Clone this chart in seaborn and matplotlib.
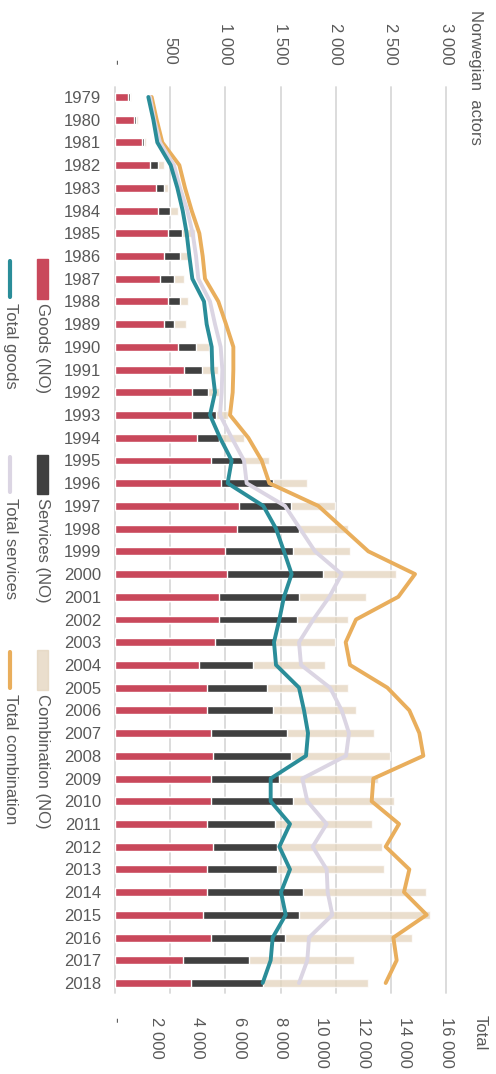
import numpy as np
import pandas as pd
import matplotlib
matplotlib.use("Agg")
import matplotlib.pyplot as plt
from matplotlib.patches import Rectangle
from matplotlib.lines import Line2D
import seaborn as sns

years = [str(y) for y in range(1979, 2019)]

# Norwegian actors (top axis), values per segment
goods_no = [115, 175, 242, 317, 372, 393, 483, 444, 408, 483, 444, 574, 628,
            701, 701, 740, 867, 958, 1121, 1103, 994, 1015, 943, 943, 903, 758,
            831, 831, 867, 885, 867, 867, 831, 885, 831, 831, 795, 867, 613, 686]
services_no = [18, 12, 18, 73, 72, 105, 124, 145, 127, 106, 91, 160, 160,
               145, 214, 206, 290, 471, 474, 565, 619, 870, 725, 706, 535, 490,
               544, 598, 692, 710, 619, 746, 619, 583, 637, 873, 873, 674, 598, 652]
combination_no = [12, 18, 18, 51, 36, 73, 118, 73, 90, 73, 108, 121, 149,
                   100, 112, 223, 236, 311, 402, 441, 514, 659, 604, 460, 559, 658,
                   734, 752, 785, 894, 895, 913, 876, 949, 967, 1118, 1190, 1148, 952, 952]

# Totals (bottom axis)
total_goods = [1611, 1853, 2046, 2691, 3013, 3271, 3464, 3593, 3738, 4302, 4431, 4673, 4705,
               4834, 4592, 5076, 5640, 5446, 7170, 7783, 8169, 8540, 8169, 7944, 7686, 7783,
               8895, 9137, 9330, 9233, 7525, 7525, 8459, 7944, 8459, 8024, 8250, 7622, 7525, 7138]
total_services = [1692, 1901, 2175, 2852, 3142, 3497, 3754, 3916, 4028, 4592, 4834, 5108, 5189,
                  5157, 5076, 5640, 6236, 6365, 8218, 8943, 9668, 10957, 10361, 9587, 8895, 8991,
                  10393, 10957, 11312, 11167, 9055, 9297, 10232, 9555, 10232, 10280, 10506, 9378, 9297, 8895]
total_combination = [1772, 2014, 2288, 3110, 3384, 3706, 4077, 4238, 4351, 4995, 5366, 5721, 5721,
                     5689, 5559, 6445, 7090, 7461, 9829, 11038, 12246, 14502, 13696, 11650, 11151, 11360,
                     13164, 14228, 14711, 14905, 12488, 12407, 13729, 13084, 14228, 13970, 15066, 13455, 13616, 13084]

df = pd.DataFrame({"year": years, "goods": goods_no, "services": services_no,
                   "combination": combination_no, "tot_goods": total_goods,
                   "tot_services": total_services, "tot_comb": total_combination})
df["s1"] = df["goods"]
df["s2"] = df["s1"] + df["services"]
df["s3"] = df["s2"] + df["combination"]
df["pos"] = np.arange(len(df))

RED = "#c9485b"
DARK = "#404040"
BEIGE = "#e3d4bd"
TEAL = "#2a8d99"
LAV = "#dbd5e3"
ORANGE = "#e9ae5c"
TXT = "#595959"

sns.set_theme(style="white")
plt.rcParams["font.family"] = ["Liberation Sans", "DejaVu Sans"]

W, H = 496, 1074
fig = plt.figure(figsize=(W / 100, H / 100), dpi=100)
ax = fig.add_axes([115 / W, 1 - 993 / H, (446 - 115) / W, (993 - 87) / H])

sns.barplot(data=df, x="s3", y="year", orient="h", color=BEIGE, alpha=0.75,
            saturation=1, width=0.35, ax=ax)
sns.barplot(data=df, x="s2", y="year", orient="h", color=DARK,
            saturation=1, width=0.35, ax=ax)
sns.barplot(data=df, x="s1", y="year", orient="h", color=RED,
            saturation=1, width=0.35, ax=ax)

ax2 = ax.twiny()
sns.lineplot(data=df, x="tot_comb", y="pos", orient="y", sort=False, estimator=None,
             color=ORANGE, lw=2.8, ax=ax2)
sns.lineplot(data=df, x="tot_services", y="pos", orient="y", sort=False, estimator=None,
             color=LAV, lw=2.8, ax=ax2)
sns.lineplot(data=df, x="tot_goods", y="pos", orient="y", sort=False, estimator=None,
             color=TEAL, lw=2.8, ax=ax2)

ax.set_ylim(39.44, -0.44)
ax.set_xlim(0, 3000)
ax2.set_xlim(0, 16000)


def fmt(v):
    return "-" if v == 0 else f"{int(v):,}".replace(",", " ")


ax.xaxis.tick_top()
top_ticks = list(range(0, 3001, 500))
ax.set_xticks(top_ticks)
ax.set_xticklabels([fmt(v) for v in top_ticks], rotation=-90)
ax2.xaxis.tick_bottom()
bot_ticks = list(range(0, 16001, 2000))
ax2.set_xticks(bot_ticks)
ax2.set_xticklabels([fmt(v) for v in bot_ticks], rotation=-90)

ax.tick_params(axis="x", length=0, pad=16, labelsize=12, labelcolor=TXT)
ax2.tick_params(axis="x", length=0, pad=17, labelsize=12, labelcolor=TXT)
ax.tick_params(axis="y", length=0, pad=10, labelsize=12, labelcolor=TXT)

ax.set_xlabel("")
ax.set_ylabel("")
ax2.set_xlabel("")
ax2.set_ylabel("")

ax.grid(axis="x", color="#d9d9d9", lw=1.3)
ax.grid(axis="y", visible=False)
for g in ax.get_xgridlines():
    g.set_clip_on(False)
ax.set_axisbelow(True)
for a in (ax, ax2):
    for s in a.spines.values():
        s.set_visible(False)

fig.text(476 / W, 1 - 10 / H, "Norwegian  actors", rotation=-90, ha="center", va="top",
         fontsize=12, color=TXT)
fig.text(480 / W, 1 - 1015 / H, "Total", rotation=-90, ha="center", va="top",
         fontsize=12, color=TXT)

# rotated legend
entries = [
    (259, 299, RED, "Goods (NO)", TEAL, "Total goods"),
    (455, 494, DARK, "Services (NO)", LAV, "Total services"),
    (650, 690, BEIGE, "Combination (NO)", ORANGE, "Total combination"),
]
for y0, y1, pc, plab, lc, llab in entries:
    fig.add_artist(Rectangle((37 / W, 1 - y1 / H), 11 / W, (y1 - y0) / H,
                             transform=fig.transFigure, color=pc,
                             alpha=0.75 if pc == BEIGE else 1))
    fig.text(42.5 / W, 1 - (y1 + 4) / H, plab, rotation=-90, ha="center", va="top",
             fontsize=12, color=TXT)
    fig.add_artist(Line2D([10 / W, 10 / W], [1 - (y0 + 2) / H, 1 - (y1 - 2) / H],
                          transform=fig.transFigure, color=lc, lw=3,
                          solid_capstyle="round"))
    fig.text(10 / W, 1 - (y1 + 4) / H, llab, rotation=-90, ha="center", va="top",
             fontsize=12, color=TXT)

fig.savefig("out.png", dpi=100)
